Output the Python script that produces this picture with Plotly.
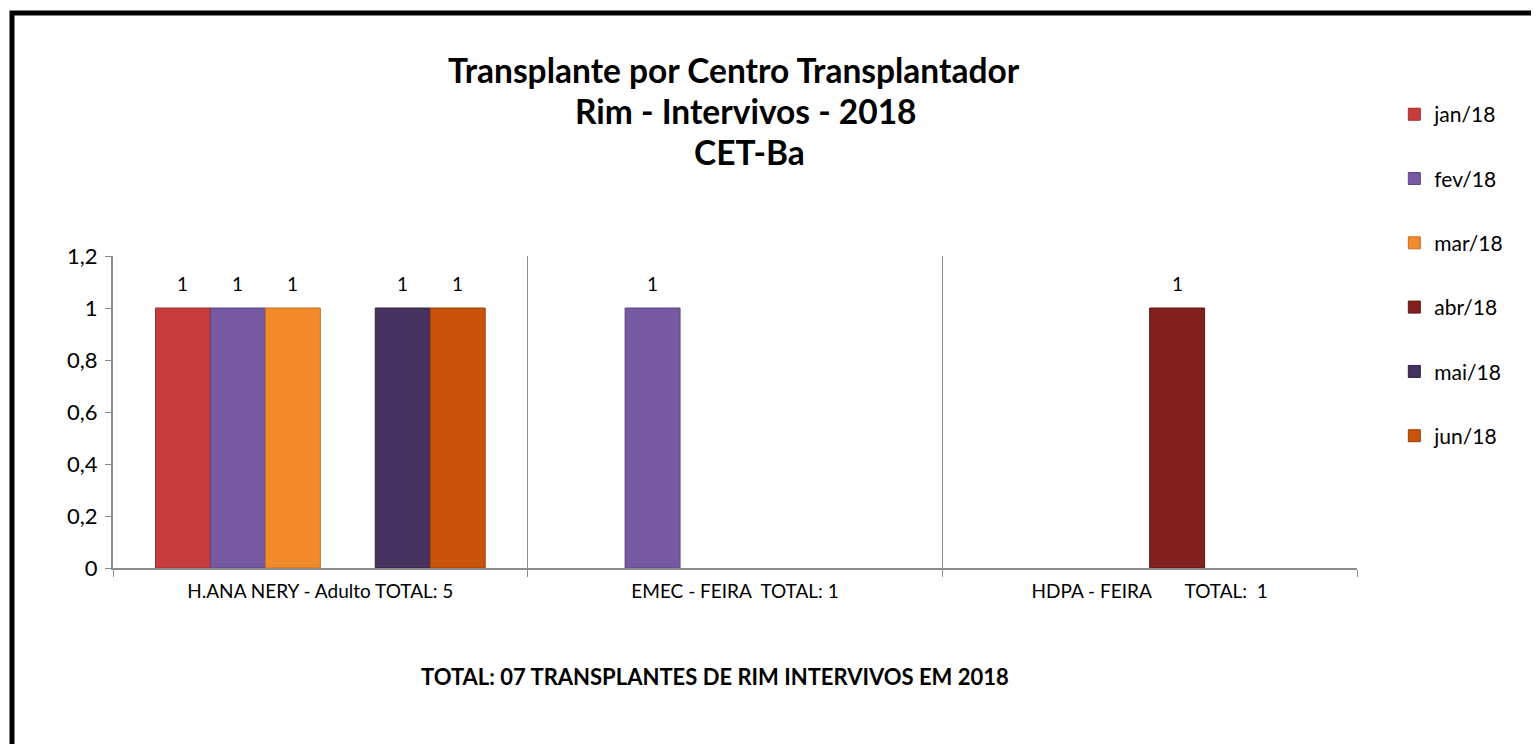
import plotly.graph_objects as go

centros = ["H.ANA NERY - Adulto TOTAL: 5", "EMEC - FEIRA  TOTAL: 1", "HDPA - FEIRA       TOTAL:  1"]
meses = ["jan/18", "fev/18", "mar/18", "abr/18", "mai/18", "jun/18"]

jan = [1, None, None]
fev = [1, 1, None]
mar = [1, None, None]
abr = [None, None, 1]
mai = [1, None, None]
jun = [1, None, None]
series = [jan, fev, mar, abr, mai, jun]

cores = ["#C63B3B", "#7758A3", "#F08A2B", "#821F1F", "#45325F", "#C9530A"]
bordas = ["#9E2E2E", "#5C4582", "#C86E1E", "#601616", "#2F2242", "#9C3F06"]

titulo = ["Transplante por Centro Transplantador", "Rim - Intervivos - 2018", "CET-Ba"]
rodape = "TOTAL: 07 TRANSPLANTES DE RIM INTERVIVOS EM 2018"

FONTE = "Lato, 'Open Sans', sans-serif"
BARGAP = 0.205

fig = go.Figure()
for nome, vals, cor, borda in zip(meses, series, cores, bordas):
    fig.add_trace(go.Bar(
        x=centros, y=vals, name=nome, legendgroup=nome,
        marker=dict(color=cor, line=dict(color=borda, width=1)),
    ))

# data labels above each bar (bar centre within the group)
n = len(series)
for k, vals in enumerate(series):
    desloc = -(1 - BARGAP) / 2 + (1 - BARGAP) / n * (k + 0.5)
    for i, v in enumerate(vals):
        if v is None:
            continue
        fig.add_annotation(x=i + desloc, y=v, xref="x", yref="y", text=str(v),
                           showarrow=False, yshift=25, yanchor="middle",
                           font=dict(size=19, color="black", family=FONTE))

# page border (only top and left visible in the reference)
fig.add_shape(type="rect", xref="paper", yref="paper",
              x0=-0.0812, y0=-2, x1=2, y1=1.779,
              line=dict(color="black", width=5), layer="above")

# three title lines, placed separately
for texto, xc, yc in zip(titulo, [0.4995, 0.5088, 0.512], [1.596, 1.465, 1.333]):
    fig.add_annotation(text="<b>%s</b>" % texto, xref="paper", yref="paper",
                       x=xc, y=yc, xanchor="center", yanchor="middle",
                       showarrow=False, font=dict(size=33.5, color="black", family=FONTE))

fig.add_annotation(text="<b>%s</b>" % rodape, xref="paper", yref="paper",
                   x=0.484, y=-0.349, xanchor="center", yanchor="middle",
                   showarrow=False, font=dict(size=22, color="black", family=FONTE))

# the page body has an 8px margin, so the figure is 8px smaller than the window
fig.update_layout(
    width=1531, height=736,
    margin=dict(l=105, r=182, t=248, b=176),
    paper_bgcolor="white", plot_bgcolor="white",
    font=dict(family=FONTE, color="black"),
    separators=", ",
    barmode="group", bargap=BARGAP, bargroupgap=0,
    showlegend=True,
    legend=dict(x=1.03, y=1.519, xanchor="left", yanchor="top",
                font=dict(size=21, color="black"), tracegroupgap=34,
                bgcolor="rgba(0,0,0,0)"),
)

fig.update_xaxes(
    type="category", tickvals=centros,
    ticktext=[c.replace(" ", "\u00a0") for c in centros],
    tickson="boundaries", ticks="outside", ticklen=7, tickcolor="#8C8C8C",
    ticklabelstandoff=5,
    showgrid=True, gridcolor="#8C8C8C", gridwidth=1,
    showline=True, linecolor="#8C8C8C", linewidth=2,
    tickfont=dict(size=19, color="black"),
)
fig.update_yaxes(
    range=[0, 1.2], dtick=0.2, tick0=0, ticks="outside", ticklen=6, tickcolor="#8C8C8C",
    ticklabelstandoff=3,
    showgrid=False, zeroline=False,
    showline=True, linecolor="#8C8C8C", linewidth=2,
    tickfont=dict(size=22, color="black"),
)

fig.write_html("out.html")
